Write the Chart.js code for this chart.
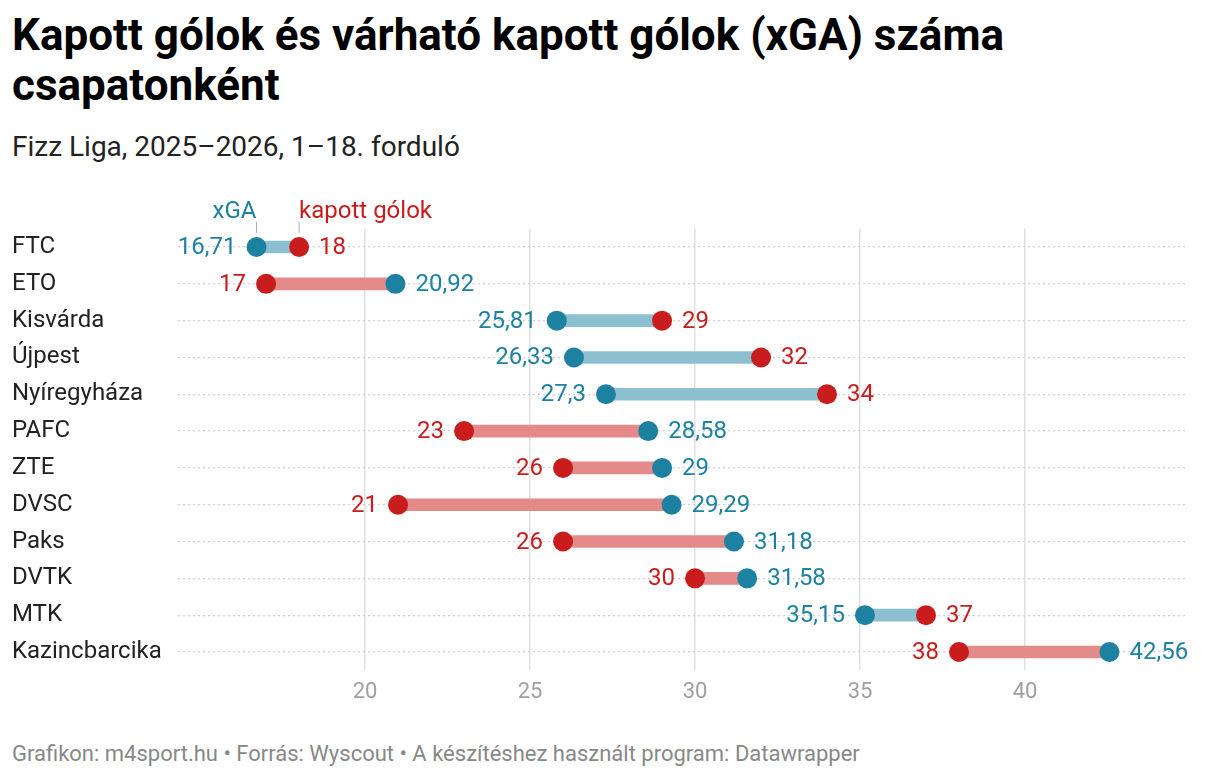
<!DOCTYPE html>
<html>
<head>
<meta charset="utf-8">
<script src="https://cdn.jsdelivr.net/npm/chart.js@4.4.1/dist/chart.umd.min.js"></script>
<style>
  body { margin: 0; background: #fff; font-family: Roboto, sans-serif; }
  #title { position: absolute; left: 12px; top: 10px; font-size: 44px; font-weight: 700; line-height: 50px; color: #000; white-space: nowrap; }
  #subtitle { position: absolute; left: 12px; top: 130px; font-size: 28px; color: #222; white-space: nowrap; }
  #footer { position: absolute; left: 12px; top: 741px; font-size: 22px; color: #888; white-space: nowrap; }
  #wrap { position: absolute; left: 0; top: 182px; width: 1220px; height: 530px; }
</style>
</head>
<body>
<div id="title">Kapott gólok és várható kapott gólok (xGA) száma<br>csapatonként</div>
<div id="subtitle">Fizz Liga, 2025–2026, 1–18. forduló</div>
<div id="wrap"><canvas id="myChart"></canvas></div>
<div id="footer">Grafikon: m4sport.hu • Forrás: Wyscout • A készítéshez használt program: Datawrapper</div>
<script>
const teams = ['FTC', 'ETO', 'Kisvárda', 'Újpest', 'Nyíregyháza', 'PAFC', 'ZTE', 'DVSC', 'Paks', 'DVTK', 'MTK', 'Kazincbarcika']
const xga = [16.71, 20.92, 25.81, 26.33, 27.3, 28.58, 29, 29.29, 31.18, 31.58, 35.15, 42.56]
const goals = [18, 17, 29, 32, 34, 23, 26, 21, 26, 30, 37, 38]
const xTicks = [20, 25, 30, 35, 40]

const blue = '#1d81a2'
const red = '#c91d1d'
const blueLight = '#8cc0d1'
const redLight = '#e48a8a'

function fmt(v) {
    return String(v).replace('.', ',')
}

// bars between the two dots, coloured like the lower value
let ranges = []
let rangeColors = []
for (let i = 0; i < teams.length; i++) {
    ranges.push([Math.min(xga[i], goals[i]), Math.max(xga[i], goals[i])])
    rangeColors.push(xga[i] < goals[i] ? blueLight : redLight)
}

const valueLabels = {
    id: 'valueLabels',
    afterDatasetsDraw(chart) {
        const ctx = chart.ctx
        const xs = chart.scales.x
        const ys = chart.scales.y
        ctx.save()
        ctx.font = '24px Roboto'
        ctx.textBaseline = 'middle'
        for (let i = 0; i < teams.length; i++) {
            const y = ys.getPixelForValue(i)
            const pts = [
                { v: xga[i], c: blue },
                { v: goals[i], c: red }
            ]
            const lo = xga[i] < goals[i] ? pts[0] : pts[1]
            const hi = xga[i] < goals[i] ? pts[1] : pts[0]
            ctx.fillStyle = lo.c
            ctx.textAlign = 'right'
            ctx.fillText(fmt(lo.v), xs.getPixelForValue(lo.v) - 20, y + 1)
            ctx.fillStyle = hi.c
            ctx.textAlign = 'left'
            ctx.fillText(fmt(hi.v), xs.getPixelForValue(hi.v) + 20, y + 1)
        }
        // series annotation above the first row
        const y0 = ys.getPixelForValue(0)
        const xA = xs.getPixelForValue(xga[0])
        const xB = xs.getPixelForValue(goals[0])
        ctx.strokeStyle = '#aaa'
        ctx.lineWidth = 1
        ctx.beginPath()
        ctx.moveTo(xA, y0 - 25); ctx.lineTo(xA, y0 - 14)
        ctx.moveTo(xB, y0 - 25); ctx.lineTo(xB, y0 - 14)
        ctx.stroke()
        ctx.textBaseline = 'alphabetic'
        ctx.fillStyle = blue
        ctx.textAlign = 'right'
        ctx.fillText('xGA', xA, y0 - 29)
        ctx.fillStyle = red
        ctx.textAlign = 'left'
        ctx.fillText('kapott gólok', xB, y0 - 29)
        ctx.restore()
    }
}

new Chart(document.getElementById('myChart'), {
    data: {
        labels: teams,
        datasets: [
            {
                type: 'bar',
                data: ranges,
                backgroundColor: rangeColors,
                barThickness: 12,
                borderSkipped: false,
                order: 2
            },
            {
                type: 'line',
                data: xga.map((v, i) => ({ x: v, y: teams[i] })),
                showLine: false,
                pointRadius: 10,
                pointHoverRadius: 10,
                pointBackgroundColor: blue,
                pointBorderWidth: 0,
                order: 1
            },
            {
                type: 'line',
                data: goals.map((v, i) => ({ x: v, y: teams[i] })),
                showLine: false,
                pointRadius: 10,
                pointHoverRadius: 10,
                pointBackgroundColor: red,
                pointBorderWidth: 0,
                order: 0
            }
        ]
    },
    options: {
        indexAxis: 'y',
        responsive: true,
        maintainAspectRatio: false,
        animation: false,
        events: [],
        layout: { padding: { left: 12, right: 32, top: 46.6, bottom: 0 } },
        plugins: {
            legend: { display: false },
            tooltip: { enabled: false }
        },
        scales: {
            x: {
                type: 'linear',
                min: 14.33,
                max: 44.94,
                afterBuildTicks: (scale) => {
                    scale.ticks = xTicks.map(v => ({ value: v }))
                },
                afterFit: (scale) => { scale.height = 41.6 },
                grid: { color: '#e2e2e2', lineWidth: 1.6, drawTicks: false },
                border: { display: false },
                ticks: {
                    padding: 9,
                    color: '#a0a0a0',
                    font: { family: 'Roboto', size: 22 }
                }
            },
            y: {
                type: 'category',
                offset: true,
                afterFit: (scale) => { scale.width = 166 },
                grid: { offset: false, color: '#d0d0d0', lineWidth: 1.2, drawTicks: false },
                border: { display: false, dash: [2, 3] },
                ticks: {
                    crossAlign: 'far',
                    color: '#222',
                    padding: 0,
                    font: { family: 'Roboto', size: 24 }
                }
            }
        }
    },
    plugins: [valueLabels]
});
</script>
</body>
</html>
